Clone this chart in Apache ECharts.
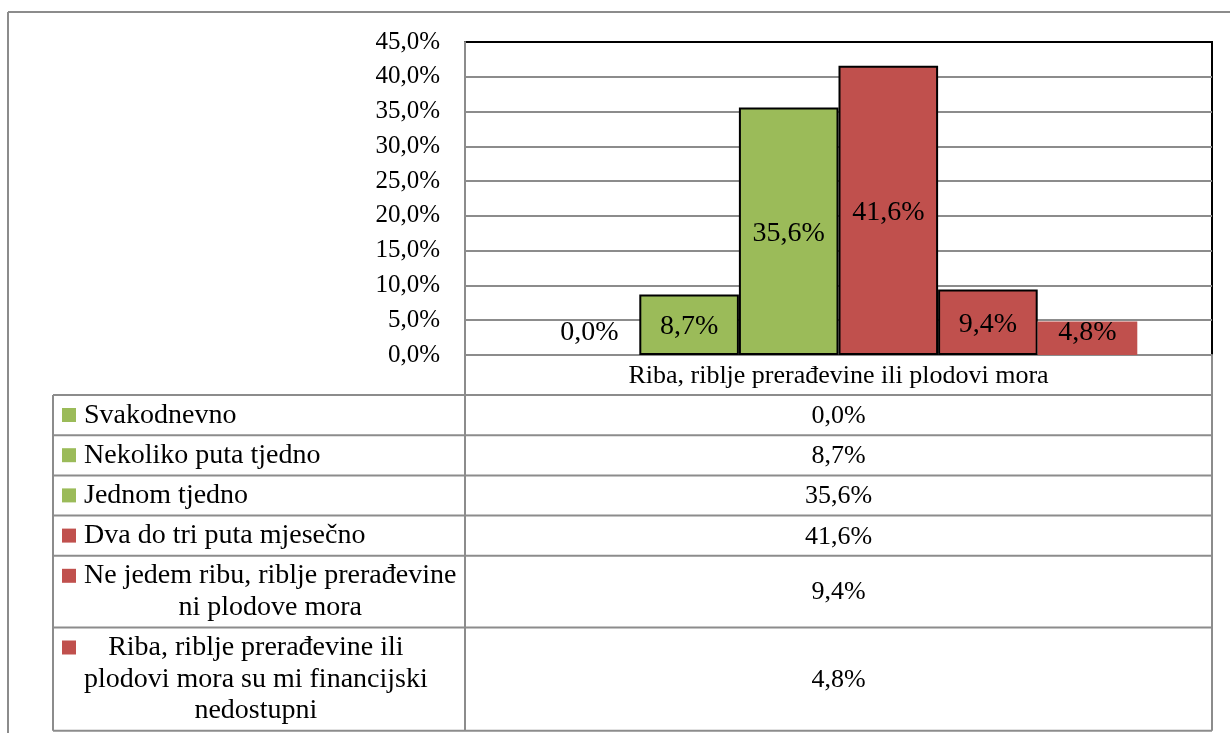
<!DOCTYPE html>
<html>
<head>
<meta charset="utf-8">
<script src="https://cdn.jsdelivr.net/npm/echarts@6/dist/echarts.min.js"></script>
<style>
  html, body { margin: 0; padding: 0; background: #fff; }
  #chart { width: 1230px; height: 733px; }
</style>
</head>
<body>
<div id="chart"></div>
<script>
// podaci
const category = 'Riba, riblje prerađevine ili plodovi mora'
const answers = [
    'Svakodnevno',
    'Nekoliko puta tjedno',
    'Jednom tjedno',
    'Dva do tri puta mjesečno',
    'Ne jedem ribu, riblje prerađevine\nni plodove mora',
    'Riba, riblje prerađevine ili\nplodovi mora su mi financijski\nnedostupni'
]
const values = [0.0, 8.7, 35.6, 41.6, 9.4, 4.8]
const yTicks = [0, 5, 10, 15, 20, 25, 30, 35, 40, 45]

const green = '#9bbb59'
const red = '#c0504d'
const colors = [green, green, green, red, red, red]
const serif = '"Liberation Serif", "DejaVu Serif", serif'
const gray = '#8c8c8c'

const fmt = v => v.toFixed(1).replace('.', ',') + '%'

let chart = echarts.init(document.getElementById('chart'))

// tablica ispod grafa
const tableLeft = 53
const tableMid = 465
const tableRight = 1212
const tableTop = 395
const rowBase = 40.2
const lineH = 31.5
const tableFont = '28px ' + serif

const ctx = document.createElement('canvas').getContext('2d')
ctx.font = tableFont

let graphics = []
function line(x1, y1, x2, y2, color) {
    graphics.push({
        type: 'line',
        shape: {x1: x1, y1: y1, x2: x2, y2: y2},
        style: {stroke: color || gray, lineWidth: 2},
        z: 10
    })
}

// vanjski okvir
line(8, 12, 1230, 12)
line(8, 12, 8, 733)

let y = tableTop
line(tableLeft, y, tableRight, y)
answers.forEach((name, i) => {
    let lines = name.split('\n')
    let h = rowBase + (lines.length - 1) * lineH
    let maxW = Math.max(...lines.map(l => ctx.measureText(l).width))
    graphics.push({
        type: 'rect',
        shape: {x: 62, y: y + 13, width: 14, height: 14},
        style: {fill: colors[i]}
    })
    graphics.push({
        type: 'text',
        x: 84 + maxW / 2,
        y: y + 4.5,
        style: {
            text: name,
            font: tableFont,
            fill: '#000',
            align: 'center',
            verticalAlign: 'top',
            lineHeight: lineH
        }
    })
    graphics.push({
        type: 'text',
        x: (tableMid + tableRight) / 2,
        y: y + h / 2 + 1,
        style: {
            text: fmt(values[i]),
            font: '26px ' + serif,
            fill: '#000',
            align: 'center',
            verticalAlign: 'middle'
        }
    })
    y += h
    line(tableLeft, y, tableRight, y)
})
line(tableLeft, tableTop, tableLeft, y)
line(tableMid, 355, tableMid, y)
line(tableRight, 355, tableRight, y)

let series = values.map((v, i) => {
    let small = v < 6
    return {
        name: answers[i],
        type: 'bar',
        data: [v],
        barGap: '0%',
        barCategoryGap: '20%',
        itemStyle: {
            color: colors[i],
            borderColor: '#000',
            borderWidth: (v === 0 || i === 5) ? 0 : 2
        },
        label: {
            show: true,
            position: small ? 'insideBottom' : 'inside',
            distance: 8,
            offset: small ? [0, 0] : [0, 2],
            formatter: p => fmt(p.value),
            color: '#000',
            fontFamily: serif,
            fontSize: 28
        }
    }
})

// zadnja linija mreže (45%) je crni okvir
let splitColors = yTicks.map((t, i) => i === yTicks.length - 1 ? '#000' : gray)

chart.setOption({
    animation: false,
    grid: {
        left: 465,
        right: 18,
        top: 42,
        bottom: 378,
        show: true,
        borderColor: '#000',
        borderWidth: 2,
        backgroundColor: 'transparent'
    },
    xAxis: {
        type: 'category',
        data: [category],
        axisLine: {lineStyle: {color: gray, width: 2}},
        axisTick: {show: false},
        axisLabel: {
            margin: 8,
            color: '#000',
            fontFamily: serif,
            fontSize: 26
        }
    },
    yAxis: {
        type: 'value',
        min: yTicks[0],
        max: yTicks[yTicks.length - 1],
        interval: yTicks[1] - yTicks[0],
        axisLine: {show: true, lineStyle: {color: gray, width: 2}},
        axisTick: {show: false},
        splitLine: {lineStyle: {color: splitColors, width: 2}},
        axisLabel: {
            margin: 25,
            color: '#000',
            fontFamily: serif,
            fontSize: 25,
            formatter: v => fmt(v)
        }
    },
    series: series,
    graphic: graphics
})
</script>
</body>
</html>
